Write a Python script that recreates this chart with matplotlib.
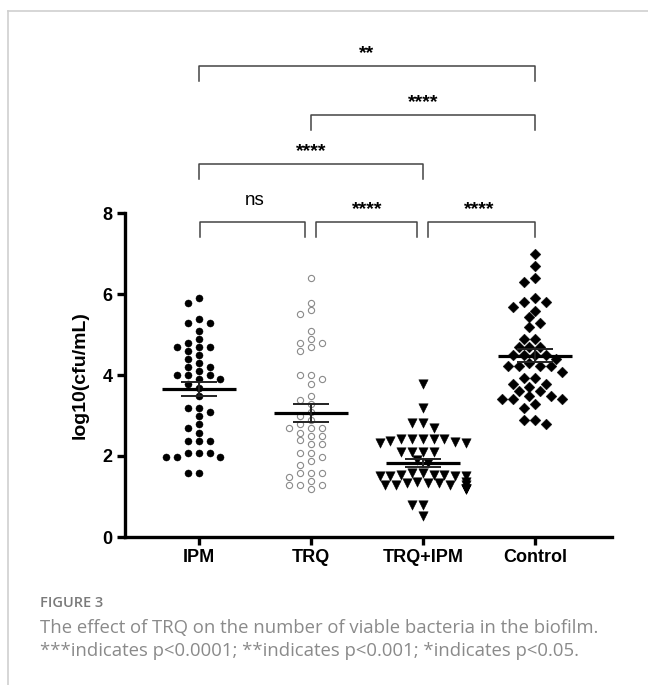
import numpy as np
import matplotlib
matplotlib.use('Agg')
import matplotlib.pyplot as plt
from matplotlib.lines import Line2D

# 数据：各组 log10(cfu/mL)
groups = ['IPM', 'TRQ', 'TRQ+IPM', 'Control']

ipm = [5.89, 5.79, 5.39, 5.29, 5.29, 5.09, 4.89, 4.79, 4.69, 4.69, 4.69, 4.59, 4.49,
       4.39, 4.29, 4.19, 4.19, 4.09, 3.99, 3.99, 3.99, 3.89, 3.89, 3.79, 3.69, 3.48,
       3.19, 3.19, 3.09, 2.99, 2.78, 2.68, 2.58, 2.38, 2.38, 2.38, 2.08, 2.08, 2.08,
       1.98, 1.98, 1.98, 1.59, 1.59]
trq = [6.40, 5.79, 5.60, 5.50, 5.09, 4.89, 4.79, 4.79, 4.69, 4.59, 3.99, 3.99, 3.89,
       3.79, 3.49, 3.39, 3.28, 3.09, 2.99, 2.88, 2.78, 2.68, 2.68, 2.68, 2.58, 2.49,
       2.49, 2.39, 2.29, 2.29, 2.08, 2.08, 1.98, 1.88, 1.79, 1.59, 1.59, 1.59, 1.48,
       1.38, 1.28, 1.28, 1.28, 1.19]
trq_ipm = [3.79, 3.19, 2.82, 2.82, 2.68, 2.42, 2.42, 2.35, 2.43, 2.32, 2.32, 2.36, 2.42,
           2.42, 2.11, 2.11, 2.11, 2.11, 1.90, 1.83, 1.50, 1.50, 1.50, 1.53, 1.53, 1.53,
           1.50, 1.57, 1.57, 1.29, 1.29, 1.29, 1.33, 1.33, 1.33, 1.29, 1.37, 1.37, 1.18,
           1.18, 1.18, 0.79, 0.79, 0.52]
control = [7.00, 6.70, 6.40, 6.29, 5.90, 5.80, 5.80, 5.69, 5.59, 5.42, 5.29, 5.19, 4.90,
           4.90, 4.70, 4.70, 4.70, 4.49, 4.49, 4.49, 4.49, 4.40, 4.29, 4.21, 4.21, 4.21,
           4.21, 4.08, 3.92, 3.92, 3.79, 3.79, 3.71, 3.60, 3.60, 3.49, 3.49, 3.40, 3.40,
           3.40, 3.28, 3.18, 2.89, 2.89, 2.79]

# 均值与SEM
means = [3.65, 3.06, 1.82, 4.47]
sems = [0.18, 0.22, 0.10, 0.16]

# 显著性标注
comparisons = [(0, 3, '**'), (1, 3, '****'), (0, 2, '****'),
               (0, 1, 'ns'), (1, 2, '****'), (2, 3, '****')]
bracket_y = [11.63, 10.42, 9.21, 7.78, 7.78, 7.78]

caption_title = 'FIGURE 3'
caption_lines = ['The effect of TRQ on the number of viable bacteria in the biofilm.',
                 '***indicates p<0.0001; **indicates p<0.001; *indicates p<0.05.']

plt.rcParams['font.family'] = ['Liberation Sans', 'DejaVu Sans']

fig = plt.figure(figsize=(6.48, 6.85), dpi=100)
ax = fig.add_axes([125 / 648, 1 - 537 / 685, (612 - 125) / 648, (537 - 213) / 685])
ax.set_xlim(-0.66, 3.69)
ax.set_ylim(0, 8)

XPX = 487 / 4.35   # 每单位x对应像素
YPX = 324 / 8.0    # 每单位y对应像素


def swarm(vals, step_px=5.4, dmin=7.2):
    # 简单蜂群图排布
    vals = np.asarray(vals)
    offs = np.zeros(len(vals))
    placed = []
    for i in np.argsort(-vals, kind='stable'):
        y = vals[i] * YPX
        for k in [0, -1, 1, -2, 2, -3, 3, -4, 4, -5, 5, -6, 6, -7, 7, -8, 8]:
            x = k * step_px
            if all(np.hypot(x - px, y - py) >= dmin for px, py in placed):
                break
        placed.append((x, y))
        offs[i] = x / XPX
    return offs


data = [ipm, trq, trq_ipm, control]
styles = [dict(marker='o', s=26, facecolor='black', edgecolor='black', linewidths=0.3),
          dict(marker='o', s=20, facecolor='white', edgecolor='#8a8a8a', linewidths=0.8),
          dict(marker='v', s=46, facecolor='black', edgecolor='black', linewidths=0.3),
          dict(marker='D', s=30, facecolor='black', edgecolor='black', linewidths=0.3)]
dmins = [7.2, 7.2, 8.6, 8.6]

for i, vals in enumerate(data):
    offs = swarm(vals, dmin=dmins[i])
    ax.scatter(i + offs, vals, zorder=3, clip_on=False, **styles[i])
    m, e = means[i], sems[i]
    ax.plot([i - 0.33, i + 0.33], [m, m], color='black', lw=2.3, zorder=4, solid_capstyle='butt')
    ax.plot([i - 0.16, i + 0.16], [m + e, m + e], color='#222222', lw=1.4, zorder=4, solid_capstyle='butt')
    ax.plot([i - 0.16, i + 0.16], [m - e, m - e], color='#222222', lw=1.4, zorder=4, solid_capstyle='butt')
    ax.plot([i, i], [m - e, m + e], color='#222222', lw=1.4, zorder=4)

# 显著性括号
drop = 0.37
for (a, b, lab), yb in zip(comparisons, bracket_y):
    x0, x1 = a, b
    if yb < 8:  # 底层括号左右缩短，避免相连
        x0 = a + (0.05 if a > 0 else 0.01)
        x1 = b - (0.05 if b < 3 else 0.0)
    ax.plot([x0, x0, x1, x1], [yb - drop, yb, yb, yb - drop], color='#444444',
            lw=1.1, clip_on=False, zorder=2)
    if lab == 'ns':
        ax.text((a + b) / 2, yb + 0.54, lab, ha='center', va='center', fontsize=13.5)
    else:
        ax.text((a + b) / 2, yb + 0.30, lab, ha='center', va='center', fontsize=14,
                fontweight='bold')

for side in ['top', 'right']:
    ax.spines[side].set_visible(False)
for side in ['left', 'bottom']:
    ax.spines[side].set_linewidth(2.4)
    ax.spines[side].set_capstyle('projecting')

ax.set_yticks([0, 2, 4, 6, 8])
ax.set_xticks(range(4))
ax.set_xticklabels(groups)
ax.tick_params(axis='both', length=6, width=2.4, labelsize=13, pad=3)
for lbl in ax.get_xticklabels() + ax.get_yticklabels():
    lbl.set_fontweight('bold')
ax.set_ylabel('log10(cfu/mL)', fontsize=14, fontweight='bold', labelpad=10)

# 外框（仅上边与左边）
fig.add_artist(Line2D([8 / 648, 1], [1 - 11 / 685, 1 - 11 / 685], color='#cfcfcf', lw=1.2))
fig.add_artist(Line2D([8 / 648, 8 / 648], [0, 1 - 11 / 685], color='#cfcfcf', lw=1.2))

# 图注
fig.text(40 / 648, 1 - 603 / 685, caption_title, fontsize=10.5, color='#7a7a7a',
         family=['Open Sans', 'DejaVu Sans'], fontweight='semibold', va='center')
fig.text(40 / 648, 1 - 628 / 685, caption_lines[0], fontsize=13.3, color='#8a8a8a',
         family=['Open Sans', 'DejaVu Sans'], va='center')
fig.text(40 / 648, 1 - 651 / 685, caption_lines[1], fontsize=13.3, color='#8a8a8a',
         family=['Open Sans', 'DejaVu Sans'], va='center')

plt.savefig('out.png', dpi=100)
